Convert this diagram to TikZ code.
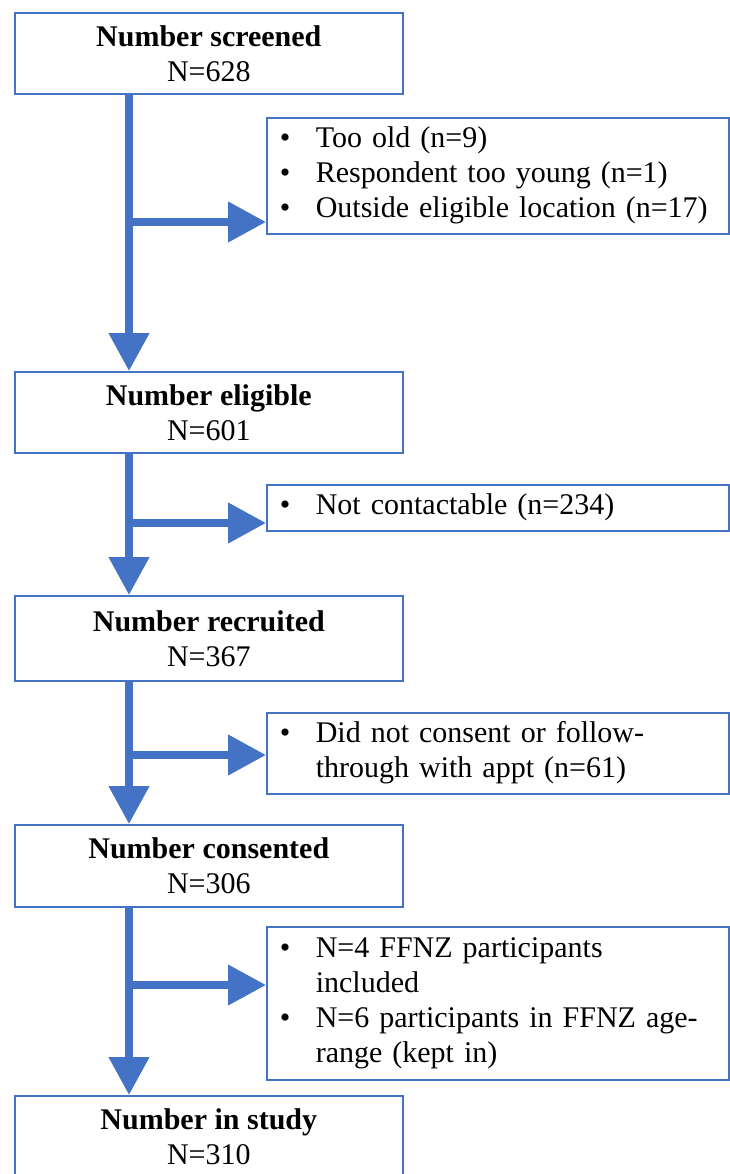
\documentclass[tikz,border=0pt]{standalone}
\usepackage{fontspec}
\setmainfont{Liberation Serif}
\usetikzlibrary{arrows.meta}
\definecolor{flowblue}{RGB}{68,114,196}
\tikzset{
	stagebox/.style={draw=flowblue, line width=1.6pt, anchor=north west, minimum width=388pt, inner sep=0pt, align=center, font=\fontsize{30}{35}\selectfont},
	exitbox/.style={draw=flowblue, line width=1.6pt, anchor=north west, text width=436pt, inner xsep=13pt, inner ysep=0pt, align=left, font=\fontsize{30}{35}\selectfont},
	flow/.style={draw=flowblue, line width=7.5pt, -{Triangle[width=39pt,length=38pt]}}
}
\newcommand{\exitlist}[1]{\begin{tabular}{@{}p{36pt}@{}l@{}}#1\end{tabular}}

\begin{document}
\begin{tikzpicture}[x=1pt, y=-1pt]
		%%%%% START %%%%%
		\useasboundingbox (0,0) rectangle (729,1174);
		
		\node[stagebox, minimum height=81pt] (screened) at (14,12) {\textbf{Number screened}\\N=628};
		\node[stagebox, minimum height=81pt] (eligible) at (14,371) {\textbf{Number eligible}\\N=601};
		\node[stagebox, minimum height=85pt] (recruited) at (14,595) {\textbf{Number recruited}\\N=367};
		\node[stagebox, minimum height=82pt] (consented) at (14,824) {\textbf{Number consented}\\N=306};
		\node[stagebox, minimum height=82pt] (study) at (14,1095) {\textbf{Number in study}\\N=310};
		
		\node[exitbox, minimum height=116pt] (exit1) at (266,117) {\exitlist{%
			\textbullet & Too old (n=9)\\
			\textbullet & Respondent too young (n=1)\\
			\textbullet & Outside eligible location (n=17)}};
		\node[exitbox, minimum height=46pt] (exit2) at (266,484) {\exitlist{%
			\textbullet & Not contactable (n=234)}};
		\node[exitbox, minimum height=81pt] (exit3) at (266,712) {\exitlist{%
			\textbullet & Did not consent or follow-\\
			 & through with appt (n=61)}};
		\node[exitbox, minimum height=153pt] (exit4) at (266,926) {\exitlist{%
			\textbullet & N=4 FFNZ participants\\
			 & included\\
			\textbullet & N=6 participants in FFNZ age-\\
			 & range (kept in)}};
		
		% spine and branch points
		\coordinate (spine) at (129,0);
		\coordinate (b1) at (129,222);
		\coordinate (b2) at (129,523);
		\coordinate (b3) at (129,755);
		\coordinate (b4) at (129,985);
		
		\draw[flow] (spine |- screened.south) -- (spine |- eligible.north);
		\draw[flow] (spine |- eligible.south) -- (spine |- recruited.north);
		\draw[flow] (spine |- recruited.south) -- (spine |- consented.north);
		\draw[flow] (spine |- consented.south) -- (spine |- study.north);
		
		\draw[flow] (b1) -- (b1 -| exit1.west);
		\draw[flow] (b2) -- (b2 -| exit2.west);
		\draw[flow] (b3) -- (b3 -| exit3.west);
		\draw[flow] (b4) -- (b4 -| exit4.west);
		
		%%%%% END %%%%%
	\end{tikzpicture}
\end{document}
